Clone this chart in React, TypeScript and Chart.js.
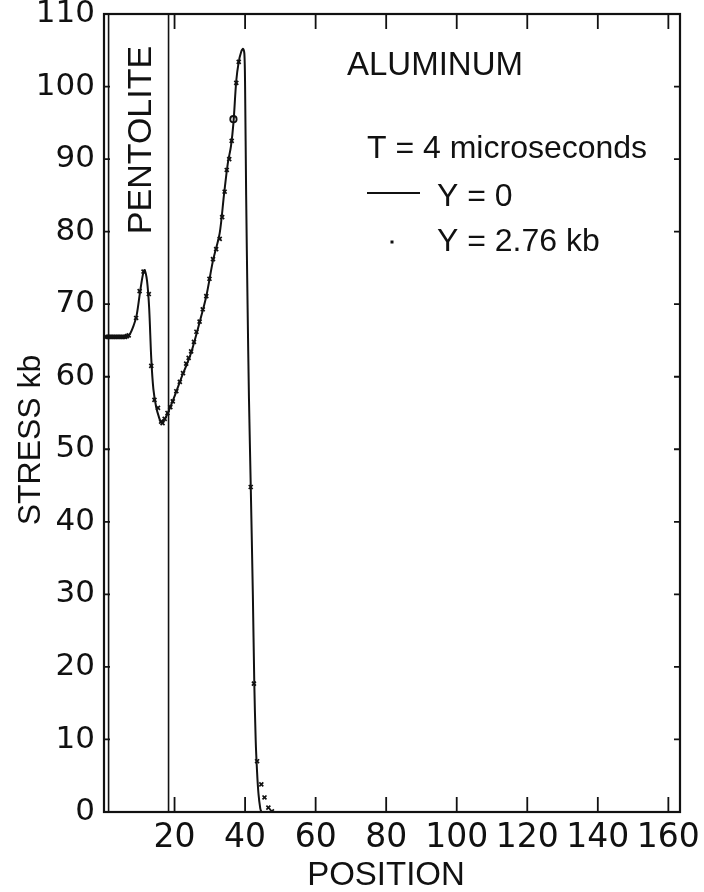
import { useEffect, useRef } from "react";
import { Chart, registerables } from "chart.js";

Chart.register(...registerables);

// Axis ranges and tick values
const xRange = [0, 163.3];
const yRange = [0, 110];
const xTicks = [20, 40, 60, 80, 100, 120, 140, 160];
const yTicks = [0, 10, 20, 30, 40, 50, 60, 70, 80, 90, 100, 110];

// Stress profile for Y = 0 (solid curve)
const solidX = [0.5, 2, 4, 6, 7.2, 8.5, 9.3, 10.2, 11.0, 11.5, 12.2, 12.8, 13.4, 14.0, 14.8, 15.6, 16.2, 17.0, 18.1, 20, 21.9, 23.3, 24.7, 27.1, 29, 30.9, 32.8, 34.0, 35.1, 36.0, 36.7, 37.5, 38.2, 38.9, 39.4, 39.8, 40.0, 40.3, 40.7, 41.1, 41.6, 42.2, 42.6, 43.0, 43.4, 43.8, 44.3, 44.6];
const solidY = [65.5, 65.5, 65.5, 65.6, 65.8, 67.2, 68.6, 71.6, 74.0, 74.7, 73.2, 69.5, 62.5, 58.3, 55.8, 54.4, 53.7, 54.0, 55.0, 57.3, 59.8, 61.5, 63.3, 67.5, 71.1, 76.0, 79.8, 85.0, 89.4, 91.8, 95.0, 100.8, 103.4, 104.8, 105.2, 104.5, 100, 85, 70, 57, 45, 30, 18, 10, 5.5, 2.5, 0.5, 0];

// Stress profile for Y = 2.76 kb (point marks)
const dotX = [0.5, 1, 1.5, 2, 2.5, 3, 3.5, 4, 4.5, 5, 5.5, 6, 6.5, 7, 9.1, 10.1, 11.2, 12.7, 13.4, 14.3, 15.3, 16.2, 16.6, 17.2, 18.0, 18.8, 19.5, 20.5, 21.5, 22.4, 23.3, 24.0, 24.7, 25.5, 26.2, 27.1, 28.0, 29.0, 29.9, 30.9, 31.8, 32.8, 33.5, 34.2, 34.8, 35.5, 36.2, 37.5, 38.2, 41.6, 42.5, 43.4, 44.6, 45.5, 46.6, 47.6];
const dotY = [65.5, 65.5, 65.5, 65.5, 65.5, 65.5, 65.5, 65.5, 65.5, 65.5, 65.5, 65.5, 65.6, 65.7, 68.1, 71.8, 74.5, 71.4, 61.5, 56.8, 55.7, 53.8, 53.6, 54.2, 55.0, 55.8, 56.6, 58.0, 59.3, 60.5, 61.8, 62.6, 63.5, 64.8, 66.2, 67.6, 69.3, 71.1, 73.5, 76.2, 77.6, 79.0, 82.0, 85.5, 88.5, 90.0, 92.5, 100.5, 103.4, 44.8, 17.7, 7.0, 3.8, 2.0, 0.6, 0.1];

// Ringed point on the rising front
const ringX = [36.7];
const ringY = [95.5];

// Material boundaries (vertical lines)
const boundaryX = [1.3, 18.3];

const INK = "#111";
const TICK_FONT = "DejaVu Sans";
const TEXT_FONT = "'Liberation Sans', Arial, sans-serif";

const pairs = (xs: number[], ys: number[]) => xs.map((x, i) => ({ x, y: ys[i] }));

const framePlugin = {
  id: "frame",
  afterDatasetsDraw(chart: any) {
    const { ctx, chartArea: a, scales } = chart;
    const xs = scales.x;
    const ys = scales.y;
    ctx.save();
    ctx.strokeStyle = INK;
    ctx.lineWidth = 2.2;
    ctx.strokeRect(a.left, a.top, a.right - a.left, a.bottom - a.top);

    // inward ticks on all four sides
    ctx.lineWidth = 1.8;
    ctx.beginPath();
    for (const v of xTicks) {
      const px = xs.getPixelForValue(v);
      ctx.moveTo(px, a.bottom);
      ctx.lineTo(px, a.bottom - 15);
      ctx.moveTo(px, a.top);
      ctx.lineTo(px, a.top + 15);
    }
    for (const v of yTicks) {
      if (v === yRange[0] || v === yRange[1]) continue;
      const py = ys.getPixelForValue(v);
      ctx.moveTo(a.left, py);
      ctx.lineTo(a.left + 6, py);
      ctx.moveTo(a.right, py);
      ctx.lineTo(a.right - 6, py);
    }
    ctx.stroke();

    ctx.fillStyle = INK;
    // annotations
    ctx.font = `33px ${TEXT_FONT}`;
    ctx.textAlign = "left";
    ctx.textBaseline = "alphabetic";
    ctx.fillText("ALUMINUM", 347, 75);
    ctx.font = `32px ${TEXT_FONT}`;
    ctx.fillText("T = 4 microseconds", 367, 158);
    ctx.fillText("Y = 0", 437, 206);
    ctx.fillText("Y = 2.76 kb", 437, 251);

    // legend samples
    ctx.lineWidth = 2;
    ctx.beginPath();
    ctx.moveTo(367, 193);
    ctx.lineTo(420, 193);
    ctx.stroke();
    ctx.fillRect(390.5, 240.5, 3, 3);

    // rotated labels
    ctx.save();
    ctx.translate(151, 140);
    ctx.rotate(-Math.PI / 2);
    ctx.textAlign = "center";
    ctx.font = `34px ${TEXT_FONT}`;
    ctx.fillText("PENTOLITE", 0, 0);
    ctx.restore();

    ctx.save();
    ctx.translate(40, 440);
    ctx.rotate(-Math.PI / 2);
    ctx.textAlign = "center";
    ctx.font = `32px ${TEXT_FONT}`;
    ctx.fillText("STRESS kb", 0, 0);
    ctx.restore();

    ctx.textAlign = "center";
    ctx.font = `33px ${TEXT_FONT}`;
    ctx.fillText("POSITION", 386, 885);
    ctx.restore();
  },
};

export default function App() {
  const ref = useRef<HTMLCanvasElement | null>(null);

  useEffect(() => {
    if (!ref.current) return;
    const boundarySets = boundaryX.map((bx) => ({
      type: "line" as const,
      data: pairs([bx, bx], [yRange[0], yRange[1]]),
      borderColor: INK,
      borderWidth: 1.6,
      pointRadius: 0,
      showLine: true,
    }));
    const chart = new Chart(ref.current, {
      type: "scatter",
      data: {
        datasets: [
          ...boundarySets,
          {
            label: "Y = 0",
            data: pairs(solidX, solidY),
            showLine: true,
            borderColor: INK,
            borderWidth: 2,
            pointRadius: 0,
            tension: 0.3,
          },
          {
            label: "Y = 2.76 kb",
            data: pairs(dotX, dotY),
            showLine: false,
            pointStyle: "crossRot",
            pointRadius: 2.8,
            borderColor: INK,
            borderWidth: 1.7,
          },
          {
            label: "ring",
            data: pairs(ringX, ringY),
            showLine: false,
            pointStyle: "circle",
            pointRadius: 3.2,
            backgroundColor: "#fff",
            borderColor: INK,
            borderWidth: 1.8,
          },
        ],
      },
      options: {
        animation: false,
        responsive: true,
        maintainAspectRatio: false,
        layout: { padding: { top: 14, right: 24, left: 0, bottom: 0 } },
        plugins: { legend: { display: false }, tooltip: { enabled: false } },
        scales: {
          x: {
            type: "linear",
            min: xRange[0],
            max: xRange[1],
            afterBuildTicks: (axis: any) => {
              axis.ticks = xTicks.map((value) => ({ value }));
            },
            afterFit: (scale: any) => {
              scale.height = 80;
              scale.paddingLeft = 0;
              scale.paddingRight = 0;
            },
            grid: { display: false, drawTicks: false },
            border: { display: false },
            ticks: {
              color: INK,
              padding: 7,
              font: { family: TICK_FONT, size: 33 },
              maxRotation: 0,
            },
          },
          y: {
            type: "linear",
            min: yRange[0],
            max: yRange[1],
            afterBuildTicks: (axis: any) => {
              axis.ticks = yTicks.map((value) => ({ value }));
            },
            afterFit: (scale: any) => {
              scale.width = 104;
              scale.paddingTop = 0;
              scale.paddingBottom = 0;
            },
            grid: { display: false, drawTicks: false },
            border: { display: false },
            ticks: {
              color: INK,
              padding: 9,
              font: { family: TICK_FONT, size: 31 },
            },
          },
        },
      },
      plugins: [framePlugin],
    });
    return () => chart.destroy();
  }, []);

  return (
    <div style={{ position: "fixed", left: 0, top: 0, width: 704, height: 892, background: "#fff" }}>
      <canvas ref={ref} />
    </div>
  );
}
